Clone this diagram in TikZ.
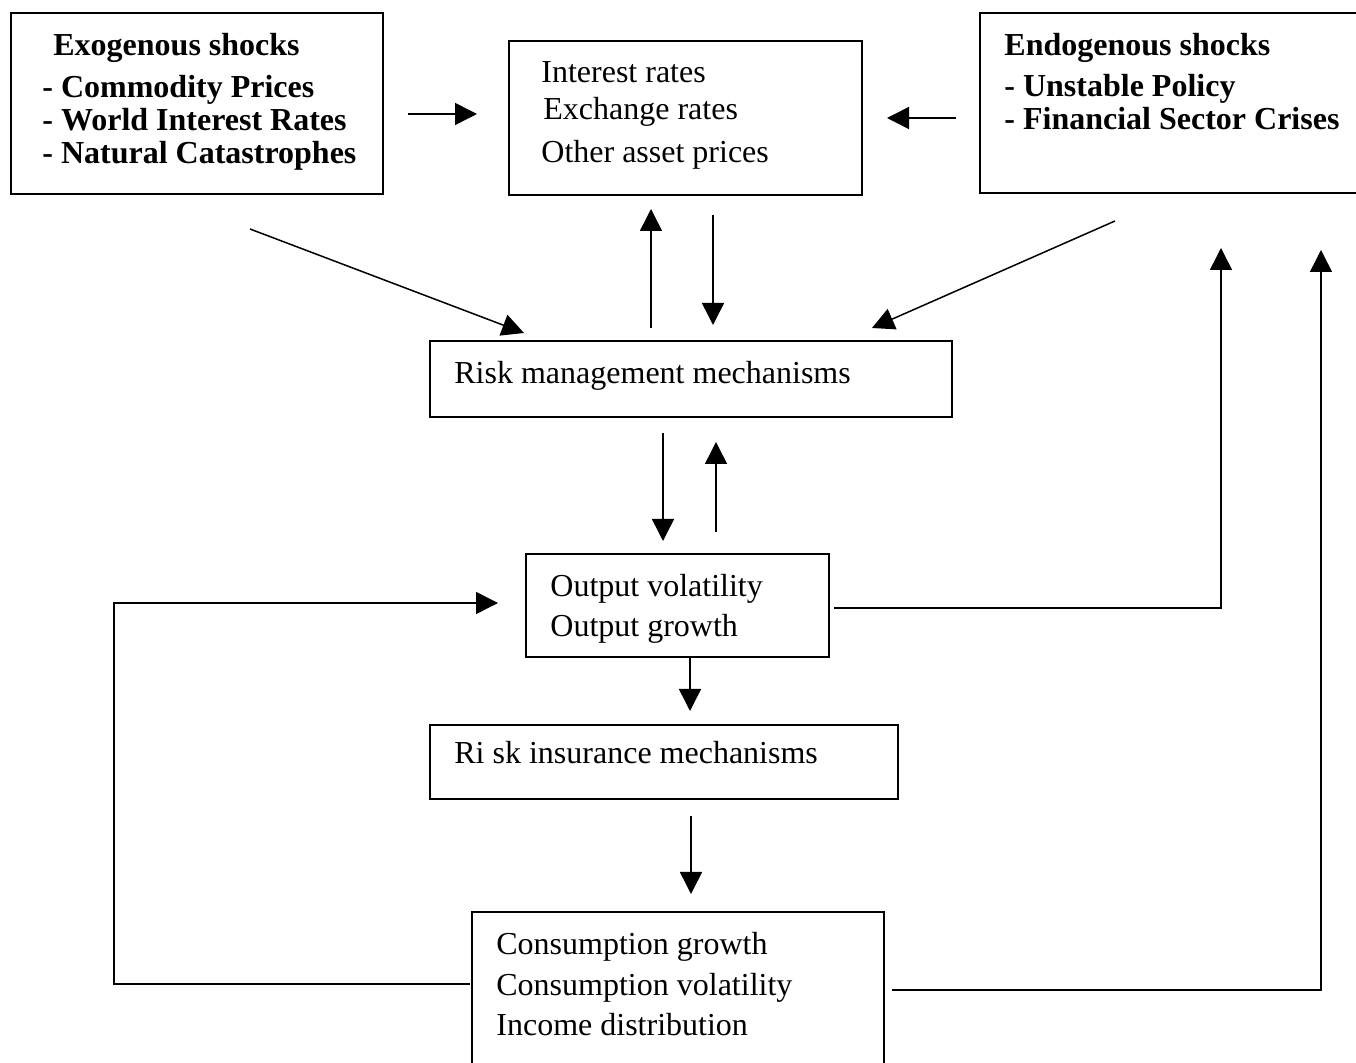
\documentclass[tikz,border=0pt]{standalone}
\usepackage{fontspec}
\setmainfont{Liberation Serif}
\usetikzlibrary{arrows.meta}
\begin{document}
\begin{tikzpicture}[x=0.5pt,y=-0.5pt,
  box/.style={draw, line width=1pt, inner sep=0pt, outer sep=0pt},
  txt/.style={anchor=base west, inner sep=0pt, font=\fontsize{16pt}{19pt}\selectfont},
  btxt/.style={anchor=base west, inner sep=0pt, font=\fontsize{16pt}{19pt}\selectfont\bfseries},
  arr/.style={line width=0.75pt, -{Triangle[length=11pt,width=11pt]}},
  ln/.style={line width=0.75pt}]
\useasboundingbox (0,0) rectangle (1356,1063);
\fill[white] (0,0) rectangle (1356,1063);

% boxes
\node[box, minimum width=186pt, minimum height=90.5pt] (exo) at (197,103.5) {};
\node[box, minimum width=176.5pt, minimum height=77pt] (mid) at (685.5,118) {};
\node[box, minimum width=190pt, minimum height=90pt] (endo) at (1170,103) {};
\node[box, minimum width=261pt, minimum height=38pt] (rm) at (691,379) {};
\node[box, minimum width=151.5pt, minimum height=51.5pt] (out) at (677.5,605.5) {};
\node[box, minimum width=234pt, minimum height=37pt] (ri) at (664,762) {};
\node[box, minimum width=206pt, minimum height=94pt] (cons) at (678,1006) {};

% texts
\node[btxt] (exo1) at (53,56) {Exogenous shocks};
\node[btxt] (exo2) at (42,98) {- Commodity Prices};
\node[btxt] (exo3) at (42,131) {- World Interest Rates};
\node[btxt] (exo4) at (42,164) {- Natural Catastrophes};

\node[txt] (mid1) at (541,83) {Interest rates};
\node[txt] (mid2) at (543,120) {Exchange rates};
\node[txt] (mid3) at (541,163) {Other asset prices};

\node[btxt] (endo1) at (1004,56) {Endogenous shocks};
\node[btxt] (endo2) at (1004,97) {- Unstable Policy};
\node[btxt] (endo3) at (1004,130) {- Financial Sector Crises};

\node[txt] (rm1) at (454,384) {Risk management mechanisms};

\node[txt] (out1) at (550,597) {Output volatility};
\node[txt] (out2) at (550,637) {Output growth};

\node[txt] (ri1) at (454,764) {Ri\hspace{4pt}sk insurance mechanisms};

\node[txt] (cons1) at (496,955) {Consumption growth};
\node[txt] (cons2) at (496,995) {Consumption volatility};
\node[txt] (cons3) at (496,1035) {Income distribution};

% connector end points
\coordinate (a1) at (408,114);  \coordinate (a2) at (477,114);
\coordinate (b1) at (956,118);  \coordinate (b2) at (887,118);
\coordinate (c1) at (250,229);  \coordinate (c2) at (524,333);
\coordinate (d1) at (1115,221); \coordinate (d2) at (872,328);
\coordinate (e1) at (651,328);  \coordinate (e2) at (651,209);
\coordinate (f1) at (713,215);  \coordinate (f2) at (713,325);
\coordinate (g1) at (663,433);  \coordinate (g2) at (663,541);
\coordinate (h1) at (716,532);  \coordinate (h2) at (716,442);
\coordinate (i1) at (690,657);  \coordinate (i2) at (690,711);
\coordinate (j1) at (691,816);  \coordinate (j2) at (691,894);
\coordinate (k1) at (470,984);  \coordinate (k2) at (114,984);
\coordinate (k3) at (114,603);  \coordinate (k4) at (498,603);
\coordinate (m1) at (834,608);  \coordinate (m2) at (1221,608);
\coordinate (m3) at (1221,248);
\coordinate (n1) at (892,990);  \coordinate (n2) at (1321,990);
\coordinate (n3) at (1321,250);

% connectors
\draw[arr] (a1) -- (a2);
\draw[arr] (b1) -- (b2);
\draw[arr] (c1) -- (c2);
\draw[arr] (d1) -- (d2);
\draw[arr] (e1) -- (e2);
\draw[arr] (f1) -- (f2);
\draw[arr] (g1) -- (g2);
\draw[arr] (h1) -- (h2);
\draw[arr] (i1) -- (i2);
\draw[arr] (j1) -- (j2);
\draw[arr] (k1) -- (k2) -- (k3) -- (k4);
\draw[arr] (m1) -- (m2) -- (m3);
\draw[arr] (n1) -- (n2) -- (n3);
\end{tikzpicture}
\end{document}
